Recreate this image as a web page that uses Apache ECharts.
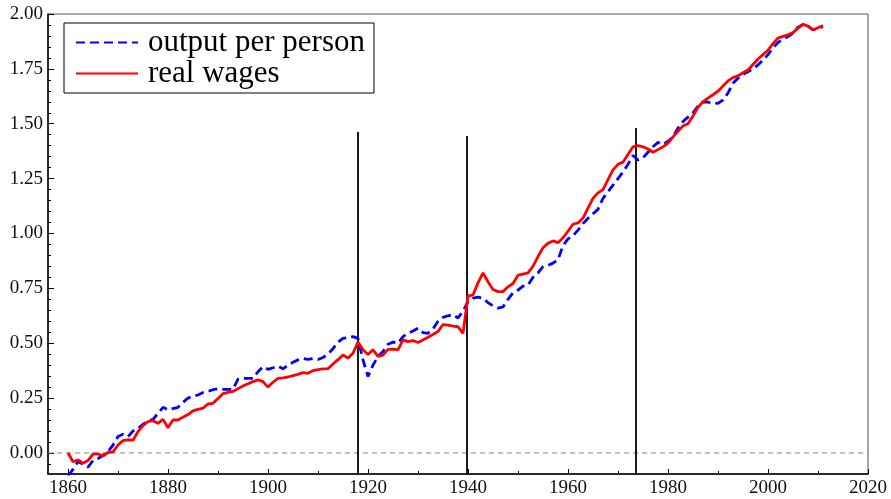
<!DOCTYPE html>
<html>
<head>
<meta charset="utf-8">
<script src="https://cdn.jsdelivr.net/npm/echarts@6/dist/echarts.min.js"></script>
<style>
  html, body { margin: 0; padding: 0; background: #fff; }
  #chart { width: 891px; height: 499px; }
</style>
</head>
<body>
<div id="chart"></div>
<script>
// years 1860..2011
const startYear = 1860;
const outputPerPerson = [
  -0.105, -0.075, -0.040, -0.050, -0.065, -0.035, -0.025, -0.012, 0.006, 0.036,
  0.075, 0.085, 0.074, 0.100, 0.112, 0.130, 0.147, 0.153, 0.180, 0.208,
  0.196, 0.202, 0.208, 0.230, 0.250, 0.258, 0.264, 0.275, 0.280, 0.288,
  0.292, 0.290, 0.290, 0.290, 0.336, 0.340, 0.340, 0.340, 0.370, 0.393,
  0.381, 0.388, 0.396, 0.383, 0.400, 0.413, 0.424, 0.431, 0.426, 0.430,
  0.426, 0.435, 0.450, 0.475, 0.505, 0.522, 0.525, 0.530, 0.522, 0.424,
  0.348, 0.400, 0.440, 0.462, 0.495, 0.505, 0.500, 0.530, 0.545, 0.556,
  0.568, 0.548, 0.545, 0.565, 0.600, 0.618, 0.625, 0.630, 0.615, 0.645,
  0.690, 0.705, 0.710, 0.705, 0.685, 0.670, 0.660, 0.665, 0.700, 0.730,
  0.742, 0.760, 0.765, 0.800, 0.820, 0.849, 0.855, 0.865, 0.880, 0.945,
  0.975, 0.990, 1.015, 1.045, 1.069, 1.090, 1.110, 1.160, 1.190, 1.220,
  1.250, 1.280, 1.315, 1.355, 1.335, 1.345, 1.370, 1.395, 1.415, 1.405,
  1.420, 1.441, 1.480, 1.510, 1.530, 1.550, 1.580, 1.600, 1.598, 1.595,
  1.593, 1.608, 1.640, 1.685, 1.707, 1.725, 1.737, 1.750, 1.768, 1.790,
  1.815, 1.845, 1.870, 1.885, 1.897, 1.912, 1.940, 1.952, 1.945, 1.928,
  1.935, 1.942
];
const realWages = [
  0.000, -0.040, -0.032, -0.047, -0.035, -0.005, -0.005, -0.014, 0.002, 0.005,
  0.036, 0.056, 0.060, 0.058, 0.097, 0.124, 0.143, 0.147, 0.135, 0.153,
  0.115, 0.150, 0.150, 0.163, 0.175, 0.192, 0.198, 0.204, 0.223, 0.226,
  0.248, 0.270, 0.276, 0.280, 0.293, 0.305, 0.315, 0.325, 0.333, 0.325,
  0.300, 0.322, 0.340, 0.342, 0.346, 0.352, 0.358, 0.366, 0.363, 0.375,
  0.380, 0.383, 0.384, 0.405, 0.425, 0.446, 0.432, 0.454, 0.505, 0.470,
  0.448, 0.470, 0.440, 0.446, 0.472, 0.473, 0.470, 0.515, 0.507, 0.512,
  0.503, 0.515, 0.527, 0.540, 0.553, 0.585, 0.582, 0.578, 0.575, 0.545,
  0.715, 0.720, 0.775, 0.820, 0.780, 0.745, 0.735, 0.735, 0.757, 0.772,
  0.810, 0.815, 0.820, 0.850, 0.895, 0.935, 0.955, 0.966, 0.958, 0.980,
  1.010, 1.042, 1.048, 1.070, 1.115, 1.160, 1.185, 1.200, 1.245, 1.290,
  1.315, 1.325, 1.360, 1.395, 1.400, 1.395, 1.385, 1.370, 1.382, 1.395,
  1.412, 1.440, 1.465, 1.490, 1.500, 1.535, 1.575, 1.600, 1.617, 1.632,
  1.648, 1.672, 1.695, 1.710, 1.718, 1.732, 1.745, 1.770, 1.795, 1.815,
  1.835, 1.865, 1.890, 1.898, 1.905, 1.915, 1.935, 1.953, 1.945, 1.928,
  1.937, 1.947
];
// vertical break markers
const breakYears = [1918, 1939.8, 1973.6];
const breakTops = [1.462, 1.444, 1.48];

const xLabels = [1860, 1880, 1900, 1920, 1940, 1960, 1980, 2000, 2020];
const xMinorTicks = [1870, 1890, 1910, 1930, 1950, 1970, 1990, 2010];
const yLabels = [0, 0.25, 0.5, 0.75, 1, 1.25, 1.5, 1.75, 2];
const yMinorTicks = [];
for (let v = -5; v <= 40; v++) yMinorTicks.push(v * 0.05);

const font = "'Liberation Serif', 'DejaVu Serif', serif";

const chart = echarts.init(document.getElementById("chart"));

const outData = outputPerPerson.map((v, i) => [startYear + i, v]);
const wageData = realWages.map((v, i) => [startYear + i, v]);

const breakSeries = breakYears.map((yr, i) => ({
  type: "line",
  silent: true,
  symbol: "none",
  data: [[yr, -0.2], [yr, breakTops[i]]],
  lineStyle: { color: "#000", width: 1.8 },
  z: 1,
}));

const option = {
  animation: false,
  backgroundColor: "#fff",
  grid: {
    left: 48,
    right: 23,
    top: 14,
    bottom: 25,
    show: true,
    borderColor: "#555",
    borderWidth: 1,
  },
  legend: {
    left: 64,
    top: 23,
    orient: "vertical",
    data: ["output per person", "real wages"],
    backgroundColor: "#fff",
    borderColor: "#000",
    borderWidth: 1,
    padding: [4, 9, 4, 11],
    itemGap: 0,
    itemWidth: 62,
    itemHeight: 14,
    itemStyle: { opacity: 0 },
    textStyle: {
      fontFamily: font,
      fontSize: 31,
      color: "#000",
      lineHeight: 28,
      padding: [0, 0, 0, 5],
    },
  },
  xAxis: [
    {
      type: "value",
      min: 1856,
      max: 2020,
      axisLine: { onZero: false, lineStyle: { color: "#000", width: 1.5 } },
      axisTick: { inside: true, length: 5, customValues: xLabels, lineStyle: { color: "#000" } },
      axisLabel: {
        customValues: xLabels,
        formatter: (v) => String(v),
        fontFamily: font,
        fontSize: 19,
        color: "#111",
        margin: 5,
      },
      splitLine: { show: false },
    },
    {
      type: "value",
      min: 1856,
      max: 2020,
      position: "bottom",
      axisLine: { show: false, onZero: false },
      axisTick: { inside: true, length: 3, customValues: xMinorTicks, lineStyle: { color: "#000" } },
      axisLabel: { show: false },
      splitLine: { show: false },
    },
  ],
  yAxis: [
    {
      type: "value",
      min: -0.096,
      max: 2,
      axisLine: { show: true, onZero: false, lineStyle: { color: "#000", width: 1.5 } },
      axisTick: { show: true, inside: true, length: 6, customValues: yLabels, lineStyle: { color: "#000" } },
      axisLabel: {
        customValues: yLabels,
        formatter: (v) => v.toFixed(2),
        fontFamily: font,
        fontSize: 19,
        color: "#111",
        margin: 5,
      },
      splitLine: { show: false },
    },
    {
      type: "value",
      min: -0.096,
      max: 2,
      position: "left",
      axisLine: { show: false, onZero: false },
      axisTick: { show: true, inside: true, length: 3, customValues: yMinorTicks, lineStyle: { color: "#000" } },
      axisLabel: { show: false },
      splitLine: { show: false },
    },
  ],
  series: [
    {
      name: "zero",
      type: "line",
      silent: true,
      symbol: "none",
      data: [[1856, 0], [2020, 0]],
      lineStyle: { color: "#888", width: 1, type: [5, 4] },
      z: 1,
    },
    ...breakSeries,
    {
      name: "output per person",
      type: "line",
      symbol: "none",
      data: outData,
      color: "#0000ff",
      lineStyle: { color: "#0000ff", width: 2.8, type: [9, 5] },
      z: 3,
    },
    {
      name: "real wages",
      type: "line",
      symbol: "none",
      data: wageData,
      color: "#ff0000",
      lineStyle: { color: "#ff0000", width: 2.8 },
      z: 4,
    },
  ],
};

chart.setOption(option);
</script>
</body>
</html>
